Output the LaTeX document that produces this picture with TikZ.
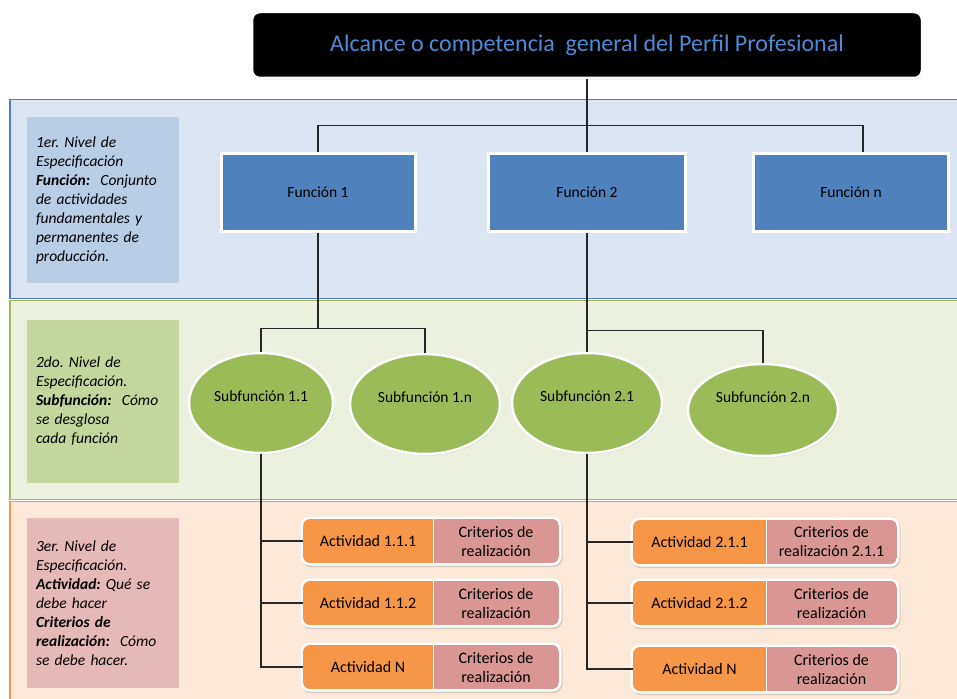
\documentclass[tikz,border=0pt]{standalone}
\usepackage{fontspec}
\setmainfont{Carlito}
\usetikzlibrary{shapes.geometric,shadows,calc}
\definecolor{bandA}{HTML}{DCE6F2}
\definecolor{bandAline}{HTML}{4F81BD}
\definecolor{bandB}{HTML}{EBF1DE}
\definecolor{bandBline}{HTML}{9BBB59}
\definecolor{bandC}{HTML}{FDE9D9}
\definecolor{bandCline}{HTML}{F79646}
\definecolor{lblA}{HTML}{B9CDE5}
\definecolor{lblB}{HTML}{C3D69B}
\definecolor{lblC}{HTML}{E6B9B8}
\definecolor{funcol}{HTML}{4F81BD}
\definecolor{subcol}{HTML}{9BBB59}
\definecolor{actcol}{HTML}{F79646}
\definecolor{critcol}{HTML}{D99694}
\definecolor{titlecol}{HTML}{4F8AD6}
\newcommand{\actrow}[7]{%
  \path[fill=white, rounded corners=9pt, drop shadow={opacity=0.3,shadow xshift=1pt,shadow yshift=-1.5pt}]
     (#2-2.5,#3-24.5) rectangle (#2+#4+#5+2.5,#3+24.5);
  \begin{scope}
    \clip[rounded corners=7pt] (#2,#3-22) rectangle (#2+#4+#5,#3+22);
    \fill[actcol] (#2,#3-22) rectangle (#2+#4,#3+22);
    \fill[critcol] (#2+#4,#3-22) rectangle (#2+#4+#5,#3+22);
  \end{scope}
  \draw[white, line width=1pt] (#2+#4,#3-22) -- (#2+#4,#3+22);
  \node[acttext, minimum width=#4pt] (#1) at (#2+#4/2,#3) {#6};
  \node[crittext, minimum width=#5pt] (#1c) at (#2+#4+#5/2,#3) {#7};
}
\frenchspacing
\begin{document}
\begin{tikzpicture}[x=1pt,y=-1pt,
  conn/.style={draw=black!85, line width=1.4pt},
  shad/.style={drop shadow={opacity=0.3,shadow xshift=1pt,shadow yshift=-1.5pt}},
  lblbox/.style={rectangle, minimum width=152pt, inner xsep=9pt, text width=134pt, align=left,
     font=\fontsize{15.5}{19}\selectfont\itshape},
  topbox/.style={rectangle, rounded corners=8pt, fill=black, draw=white, line width=2.5pt, shad,
     minimum width=670pt, minimum height=66pt, text=titlecol, font=\fontsize{24}{28}\selectfont},
  funbox/.style={rectangle, fill=funcol, draw=white, line width=3pt, shad,
     minimum height=78pt, font=\fontsize{15.5}{18}\selectfont},
  subbox/.style={ellipse, fill=subcol, draw=white, line width=2.5pt, shad, inner sep=0pt,
     minimum width=146pt, minimum height=100pt, font=\fontsize{15.5}{18}\selectfont},
  acttext/.style={rectangle, inner sep=0pt, minimum height=44pt, font=\fontsize{16}{19}\selectfont},
  crittext/.style={rectangle, inner sep=0pt, minimum height=44pt, align=center, font=\fontsize{16}{19}\selectfont},
]
\useasboundingbox (0,0) rectangle (957,698);
\fill[white] (0,0) rectangle (957,698);
% bands
\filldraw[fill=bandA, draw=bandAline, line width=1.5pt] (10,99.5) rectangle (965,298.5);
\filldraw[fill=bandB, draw=bandBline, line width=1.5pt] (10,300.5) rectangle (965,499.5);
\filldraw[fill=bandC, draw=bandCline, line width=1.5pt] (10,501.5) rectangle (965,710);
% level labels
\node[lblbox, fill=lblA, minimum height=166pt] (l1) at (103,200) {1er. Nivel de\\Especificación\\\textbf{Función:}\ \ Conjunto\\de actividades\\fundamentales y\\permanentes de\\producción.};
\node[lblbox, fill=lblB, minimum height=163pt] (l2) at (103,401) {2do. Nivel de\\Especificación.\\\textbf{Subfunción:}\ \ Cómo\\se desglosa\\cada función};
\node[lblbox, fill=lblC, minimum height=170pt] (l3) at (103,603) {3er. Nivel de\\Especificación.\\\textbf{Actividad:} Qué se\\debe hacer\\\textbf{Criterios de}\\\textbf{realización:}\ \ Cómo\\se debe hacer.};
% top
\node[topbox] (top) at (587,45) {Alcance o competencia \ general del Perfil Profesional};
% functions
\node[funbox, minimum width=194pt] (f1) at (318,192) {Función 1};
\node[funbox, minimum width=197pt] (f2) at (587,192) {Función 2};
\node[funbox, minimum width=195pt] (fn) at (851,192) {Función n};
% subfunctions
\node[subbox, minimum width=144pt] (s11) at (261,403) {\raisebox{14pt}{Subfunción 1.1}};
\node[subbox, minimum width=150pt] (s1n) at (425,404) {\raisebox{14pt}{Subfunción 1.n}};
\node[subbox, minimum width=150pt] (s21) at (587,403) {\raisebox{14pt}{Subfunción 2.1}};
\node[subbox, minimum width=150pt, minimum height=92pt] (s2n) at (763,410) {\raisebox{26pt}{Subfunción 2.n}};
% activities
\actrow{a11}{303}{541}{130}{126}{Actividad 1.1.1}{Criterios de\\realización}
\actrow{a12}{303}{603}{130}{126}{Actividad 1.1.2}{Criterios de\\realización}
\actrow{a1N}{303}{667}{130}{126}{Actividad N}{Criterios de\\realización}
\actrow{a21}{633}{542}{133}{131}{Actividad 2.1.1}{Criterios de\\realización 2.1.1}
\actrow{a22}{633}{603}{133}{131}{Actividad 2.1.2}{Criterios de\\realización}
\actrow{a2N}{633}{669}{133}{131}{Actividad N}{Criterios de\\realización}
% connectors
\draw[conn] (top.south) -- (f2.north);
\coordinate (j1) at ($(top.south)+(0,46)$);
\draw[conn] (f1.north) |- (j1) -| ($(fn.north)+(12,0)$);
\coordinate (j2) at ($(f1.south)+(0,96)$);
\draw[conn] (f1.south) -- (j2);
\draw[conn] (s11.north) |- (j2) -| (s1n.north);
\draw[conn] (f2.south) -- (s21.north);
\coordinate (j3) at ($(f2.south)+(0,98)$);
\draw[conn] (j3) -| (s2n.north);
\draw[conn] (s11.south) |- (a11.west);
\draw[conn] (s11.south) |- (a12.west);
\draw[conn] (s11.south) |- (a1N.west);
\draw[conn] (s21.south) |- (a21.west);
\draw[conn] (s21.south) |- (a22.west);
\draw[conn] (s21.south) |- (a2N.west);
\end{tikzpicture}
\end{document}
